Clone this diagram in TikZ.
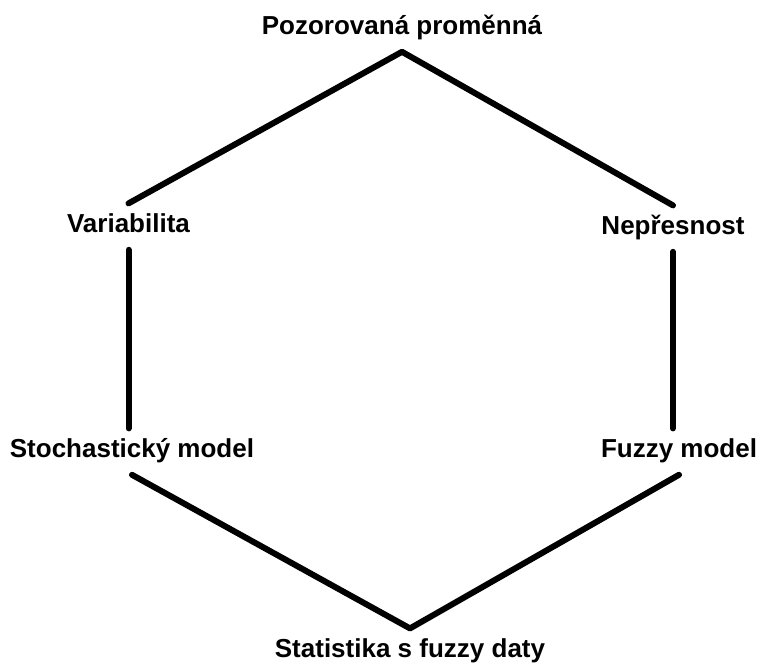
\documentclass[tikz,border=0pt]{standalone}
\usepackage{fontspec}
\setmainfont{Liberation Sans}
\usepackage{tikz}
\usetikzlibrary{positioning}

\begin{document}
\begin{tikzpicture}[x=0.5pt,y=-0.5pt,
  lbl/.style={font=\bfseries\fontsize{13}{15}\selectfont,anchor=base,
    text height=0.75em,text depth=0.21em,inner xsep=2pt,inner ysep=6.6pt},
  edge/.style={line width=3pt,line cap=round,line join=round}]
\useasboundingbox (0,0) rectangle (760,664);
\node[lbl] (top) at (402,34) {Pozorovaná proměnná};
\node[lbl] (var) at (128.5,232) {Variabilita};
\node[lbl] (nep) at (673,234) {Nepřesnost};
\node[lbl] (stoch) at (132,457) {Stochastický model};
\node[lbl] (fuzzy) at (679,457) {Fuzzy model};
\node[lbl] (stat) at (410,657) {Statistika s fuzzy daty};
% hexagon edges
\draw[edge] (var.north) -- (top.south) -- (nep.north);
\draw[edge] (var.south) -- (var.south |- stoch.north);
\draw[edge] (nep.south) -- (nep.south |- fuzzy.north);
\draw[edge] (stoch.south) -- (stat.north) -- (fuzzy.south);
\end{tikzpicture}
\end{document}
